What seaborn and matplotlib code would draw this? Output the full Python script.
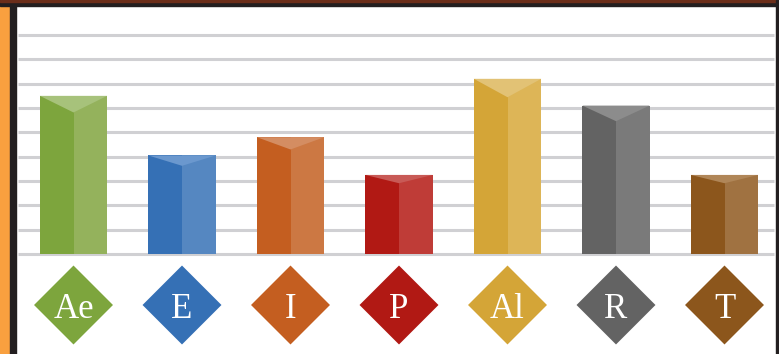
import matplotlib
matplotlib.use("Agg")
import matplotlib.pyplot as plt
import seaborn as sns
import numpy as np
from matplotlib.patches import Rectangle, Polygon

categories = ["Ae", "E", "I", "P", "Al", "R", "T"]
values = [6.5, 4.05, 4.8, 3.25, 7.2, 6.1, 3.25]
front_colors = ["#7DA53D", "#3570B5", "#C45E20", "#B11914", "#D4A537", "#636363", "#8C561C"]
side_colors = ["#94B25C", "#5587C1", "#CC7843", "#BF3C37", "#DDB557", "#7A7A7A", "#A07241"]
top_colors = ["#A7C27B", "#6B98CE", "#D48D62", "#C85A56", "#E2C275", "#8C8C8C", "#B08658"]
grid_levels = list(range(0, 10))

W, H = 779, 354
fig = plt.figure(figsize=(W / 100, H / 100), dpi=100)
sns.set_style("white")

# decorative frame
fig.patches.append(Rectangle((0, 0), 10 / W, 1, transform=fig.transFigure, color="#F9A03F", zorder=0))
fig.patches.append(Rectangle((10 / W, 0), 6 / W, 1, transform=fig.transFigure, color="#231F20", zorder=0))
fig.patches.append(Rectangle((0, 1 - 6 / H), 1, 6 / H, transform=fig.transFigure, color="#231F20", zorder=0))
fig.patches.append(Rectangle((0, 1 - 1.5 / H), 1, 1.5 / H, transform=fig.transFigure, color="#6B2E1A", zorder=0))
fig.patches.append(Rectangle((776 / W, 0), 3 / W, 1, transform=fig.transFigure, color="#231F20", zorder=0))

ax = fig.add_axes([16 / W, 0, 760 / W, 348 / H])
unit = 24.33

# gridlines
ax.hlines(grid_levels, 2 / 760, 758 / 760, transform=ax.get_yaxis_transform(),
          colors="#D0D0D3", linewidth=2.2, zorder=0)

sns.barplot(x=categories, y=values, hue=categories, palette=front_colors,
            legend=False, width=0.62, saturation=1, ax=ax, zorder=2, linewidth=0)

for i, p in enumerate(ax.patches):
    x0 = p.get_x()
    w = p.get_width()
    h = p.get_height()
    xm = x0 + w / 2
    ax.add_patch(Rectangle((xm, 0), w / 2, h, facecolor=side_colors[i], linewidth=0, zorder=3))
    depth = 0.105 * h
    ax.add_patch(Polygon([(x0, h), (x0 + w, h), (xm, h - depth)], closed=True,
                         facecolor=top_colors[i], linewidth=0, zorder=4))

# diamond labels
xs = np.arange(len(categories))
ax.scatter(xs, [-(305 - 254) / unit] * len(xs), marker="D", s=40.2 ** 2,
           c=front_colors, linewidths=0, zorder=5, clip_on=False)
for i, c in enumerate(categories):
    ax.text(i, -(318.5 - 254) / unit, c, ha="center", va="baseline", color="white",
            fontsize=25, family=["Liberation Serif", "DejaVu Serif"], zorder=6)

ax.set_ylim(-(354 - 254) / unit, (254 - 6) / unit)
ax.set_xlim((16 - 73.5) / 108.5, (776 - 73.5) / 108.5)
ax.set_axis_off()
fig.savefig("out.png", dpi=100)
